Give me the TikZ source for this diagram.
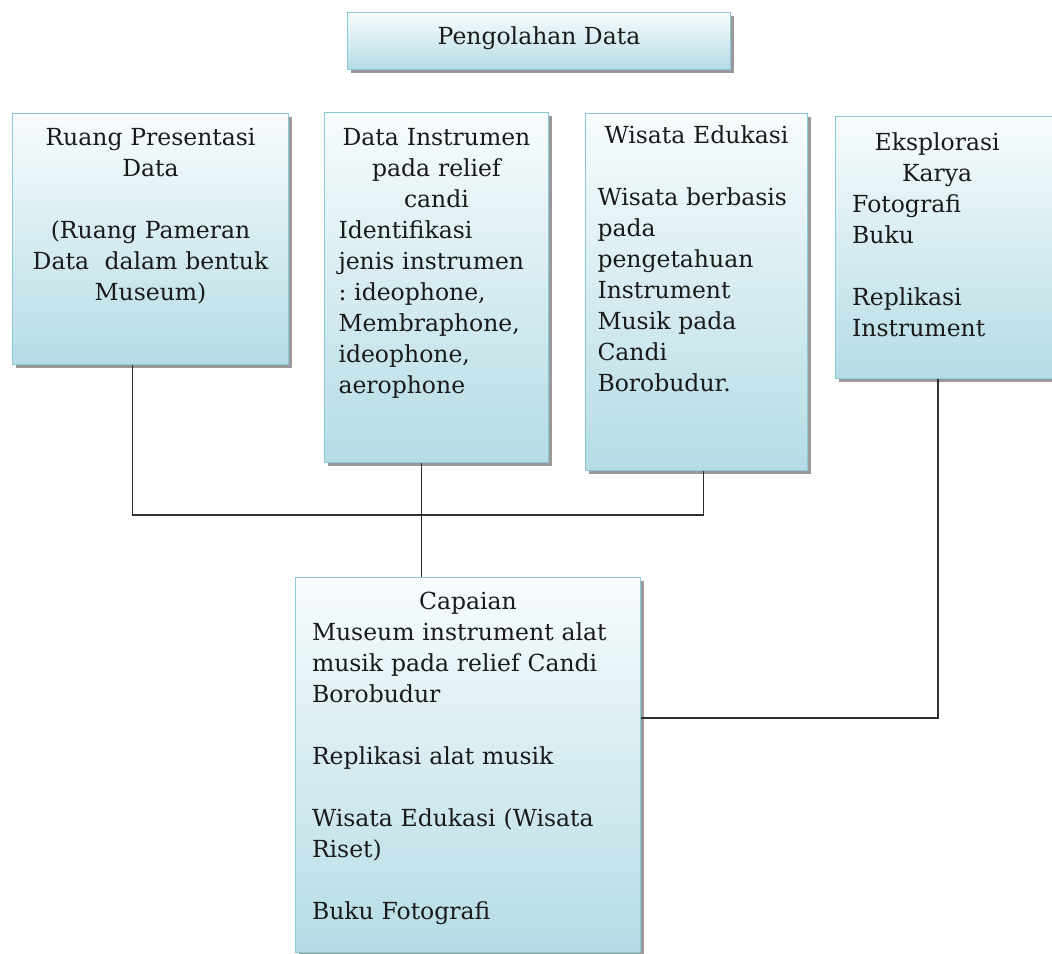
\documentclass[tikz,border=0pt]{standalone}
\usepackage{fontspec}
\setmainfont{DejaVu Serif}
\usetikzlibrary{shadows}
\frenchspacing
\definecolor{boxtop}{HTML}{F8FCFD}
\definecolor{boxbot}{HTML}{B5DCE5}
\definecolor{boxline}{HTML}{8CC9D6}
\definecolor{wirecol}{HTML}{303030}
\definecolor{inkcol}{HTML}{1A1A1A}
\begin{document}
\begin{tikzpicture}[x=1pt,y=-1pt,
  panel/.style={rectangle, draw=boxline, line width=1pt, top color=boxtop, bottom color=boxbot,
    drop shadow={shadow xshift=3pt, shadow yshift=-3pt, fill=black, opacity=0.4},
    inner sep=0pt, anchor=north west},
  txt/.style={font=\fontsize{23.5}{31}\selectfont, inner sep=0pt, text=inkcol},
  wire/.style={draw=wirecol, line width=1.7pt}]
\useasboundingbox (0,0) rectangle (1052,953);

% boxes
\node[panel, minimum width=383pt, minimum height=57pt] (top) at (347,12) {};
\node[panel, minimum width=276pt, minimum height=251pt] (b1) at (12,113) {};
\node[panel, minimum width=224pt, minimum height=350pt] (b2) at (324,112) {};
\node[panel, minimum width=222pt, minimum height=357pt] (b3) at (585,113) {};
\node[panel, minimum width=226pt, minimum height=262pt] (b4) at (835,116) {};
\node[panel, minimum width=345pt, minimum height=375pt] (b5) at (295,577) {};

% texts
\node[txt, anchor=base] (ttop) at ([yshift=-32pt]top.north) {Pengolahan Data};

\node[txt, anchor=north, text width=260pt, align=center] (t1) at ([yshift=-15pt]b1.north)
  {Ruang Presentasi\\Data\\[31pt](Ruang Pameran\\Data\ \ dalam bentuk\\Museum)};

\node[txt, anchor=north, text width=196pt] (t2) at ([yshift=-16pt]b2.north)
  {\parindent=0pt{\centering Data Instrumen\\pada relief\\candi\par}\raggedright
   Identifikasi\\jenis instrumen\\: ideophone,\\Membraphone,\\ideophone,\\aerophone};

\node[txt, anchor=north, text width=198pt] (t3) at ([yshift=-12pt]b3.north)
  {\parindent=0pt{\centering Wisata Edukasi\par}\vspace{31pt}\raggedright
   Wisata berbasis\\pada\\pengetahuan\\Instrument\\Musik pada\\Candi\\Borobudur.};

\node[txt, anchor=north west, text width=170pt] (t4) at ([xshift=17pt,yshift=-16pt]b4.north west)
  {\parindent=0pt{\centering Eksplorasi\\Karya\par}\raggedright
   Fotografi\\Buku\\[31pt]Replikasi\\Instrument};

\node[txt, anchor=north, text width=312pt] (t5) at ([yshift=-15pt]b5.north)
  {\parindent=0pt{\centering Capaian\par}\raggedright
   Museum instrument alat\\musik pada relief Candi\\Borobudur\\[31pt]Replikasi alat musik\\[31pt]Wisata Edukasi (Wisata\\Riset)\\[31pt]Buku Fotografi};

% connectors
\coordinate (bus) at (421,515);
\coordinate (j4) at ([xshift=-10.5pt]b4.south |- 0,718);
\draw[wire] ([xshift=-18pt]b1.south) |- (bus) -| ([xshift=7pt]b3.south);
\draw[wire] ([xshift=-15pt]b2.south) -- ([xshift=-15pt]b2.south |- b5.north);
\draw[wire] ([xshift=-10.5pt]b4.south) -- (j4) -- (j4 -| b5.east);
\end{tikzpicture}
\end{document}
